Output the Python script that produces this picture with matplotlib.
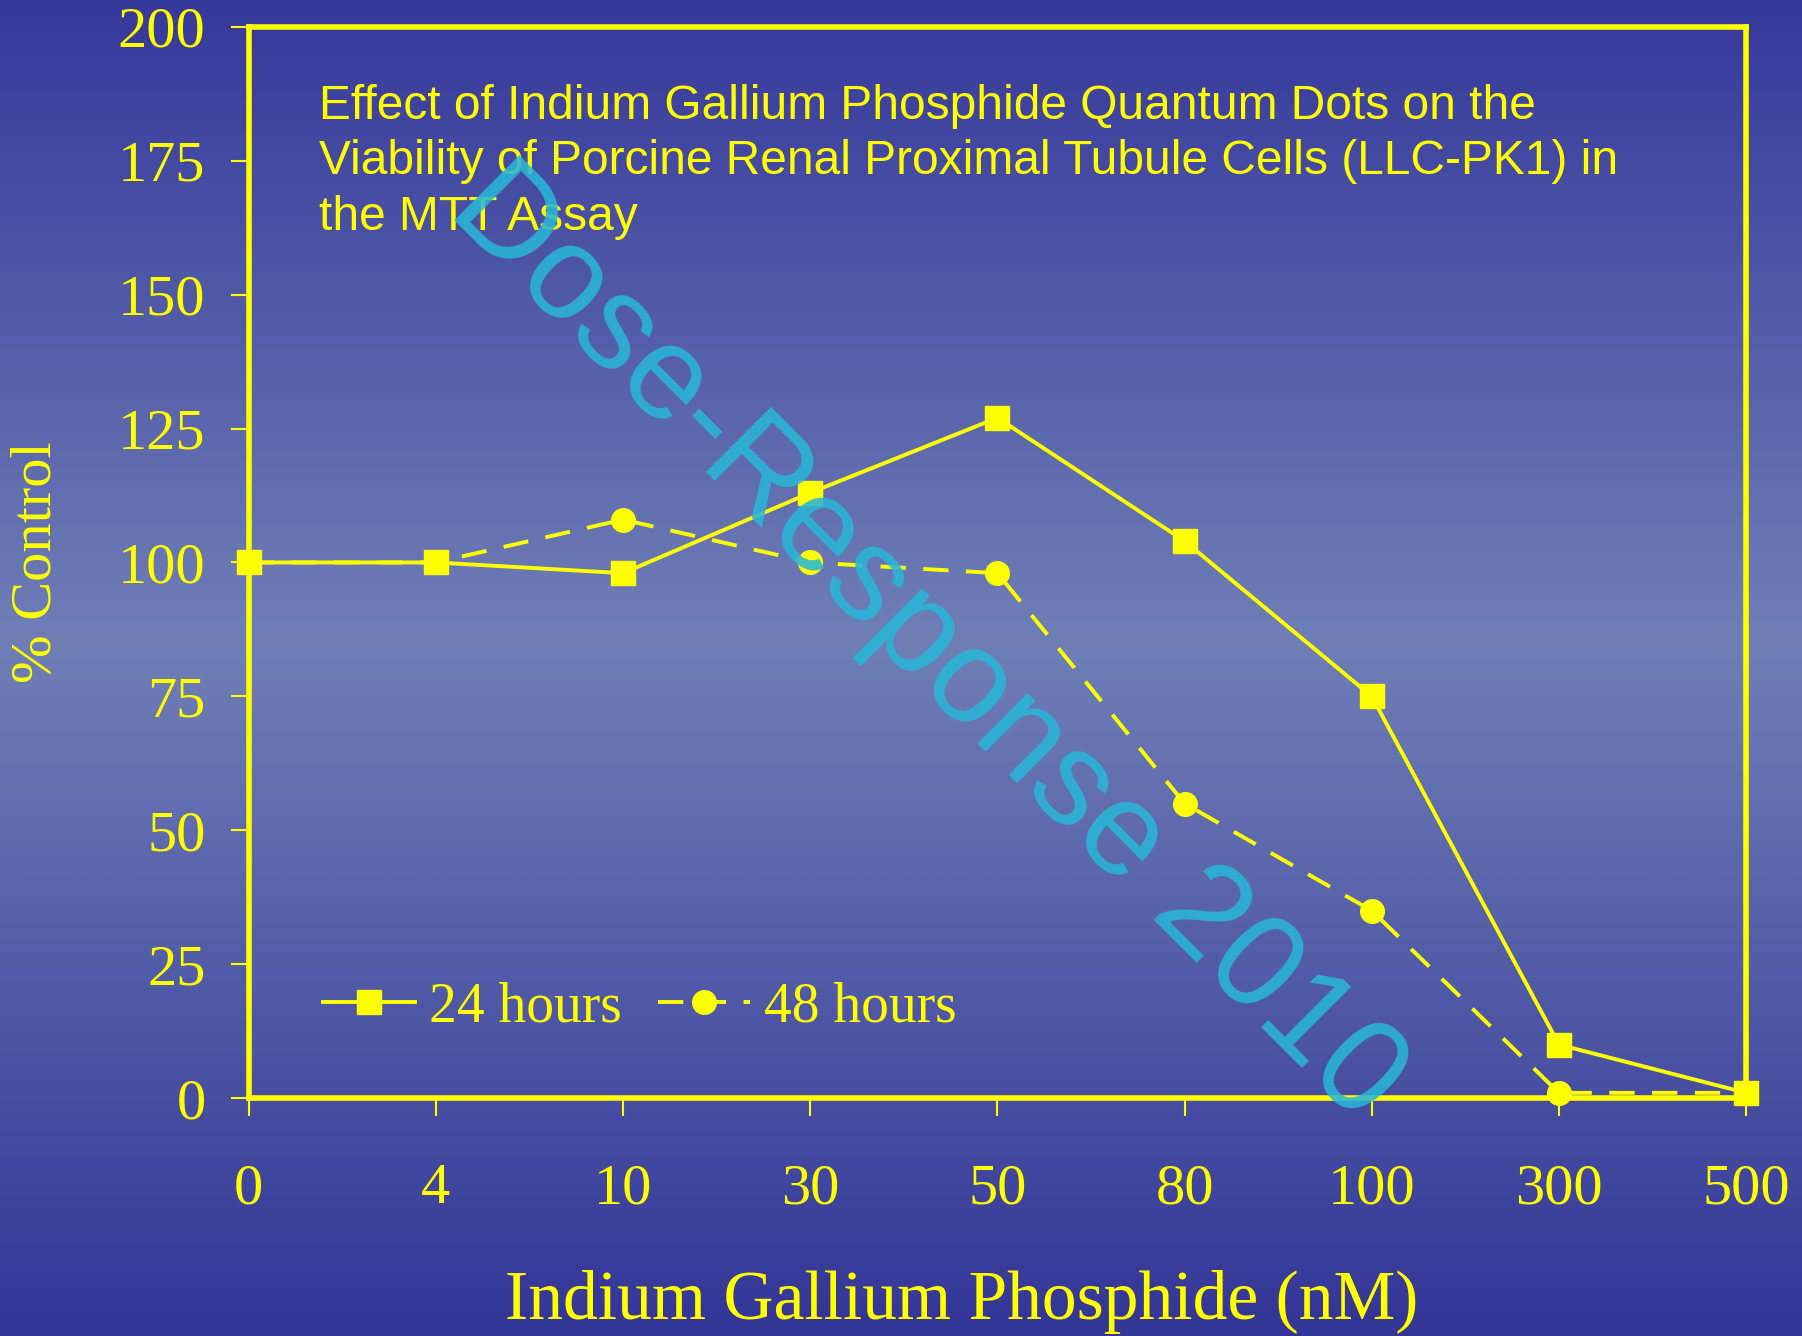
import numpy as np
import matplotlib
matplotlib.use('Agg')
import matplotlib.pyplot as plt
from matplotlib.colors import LinearSegmentedColormap

doses = ['0', '4', '10', '30', '50', '80', '100', '300', '500']
hours_24 = [100, 100, 98, 113, 127, 104, 75, 10, 1]
hours_48 = [100, 100, 108, 100, 98, 55, 35, 1, 1]
y_ticks = [0, 25, 50, 75, 100, 125, 150, 175, 200]

yellow = '#ffff00'
serif = 'Liberation Serif'
sans = 'Liberation Sans'

fig = plt.figure(figsize=(18.02, 13.36), dpi=100)

# background gradient: dark at top/bottom, lighter in the middle
bg = fig.add_axes([0, 0, 1, 1], zorder=-10)
cmap = LinearSegmentedColormap.from_list('bg', ['#36389b', '#6f7fb6', '#333597'])
grad = np.concatenate([np.linspace(0, 0.5, 480), np.linspace(0.5, 1, 520)])[:, None]
bg.imshow(grad, aspect='auto', cmap=cmap, extent=[0, 1, 0, 1])
bg.axis('off')

ax = fig.add_axes([0.138, 0.178, 0.831, 0.802])
ax.patch.set_alpha(0)
x = np.arange(len(doses))

ax.plot(x, hours_24, color=yellow, lw=2.8, marker='s', ms=17, clip_on=False,
        label='24 hours', zorder=4)
ax.plot(x, hours_48, color=yellow, lw=2.8, ls=(0, (6.5, 4.5)), marker='o', ms=17,
        clip_on=False, label='48 hours', zorder=3)

ax.set_xlim(0, 8)
ax.set_ylim(0, 200)
ax.set_xticks(x)
ax.set_xticklabels(doses)
ax.set_yticks(y_ticks)
for s in ax.spines.values():
    s.set_color(yellow)
    s.set_linewidth(4)
ax.tick_params(colors=yellow, labelcolor=yellow, length=13, width=1.5, labelsize=42)
ax.tick_params(axis='x', pad=34)
ax.tick_params(axis='y', pad=18)
for lab in ax.get_xticklabels() + ax.get_yticklabels():
    lab.set_fontfamily(serif)

ax.set_xlabel('Indium Gallium Phosphide (nM)', fontsize=50, color=yellow,
              fontfamily=serif, va='center')
ax.xaxis.set_label_coords(0.476, -0.19)
ax.set_ylabel('% Control', fontsize=42, color=yellow, fontfamily=serif, va='center')
ax.yaxis.set_label_coords(-0.1416, 0.5)

ax.text(0.047, 0.947, 'Effect of Indium Gallium Phosphide Quantum Dots on the\n'
        'Viability of Porcine Renal Proximal Tubule Cells (LLC-PK1) in\n'
        'the MTT Assay', transform=ax.transAxes, fontsize=34.5, color=yellow,
        fontfamily=sans, va='top', ha='left', linespacing=1.3)

leg = ax.legend(loc='center left', bbox_to_anchor=(0.031, 0.085), ncol=2, frameon=False,
                prop={'family': serif, 'size': 40}, labelcolor=yellow, borderpad=0,
                handlelength=1.66, handletextpad=0.25, columnspacing=0.65)

fig.text(0.514, 0.518, 'Dose-Response 2010', fontsize=96, color='#29b6d8', alpha=0.88,
         fontfamily=sans, rotation=-45, ha='center', va='center', zorder=20)

fig.savefig('out.png', dpi=100)
